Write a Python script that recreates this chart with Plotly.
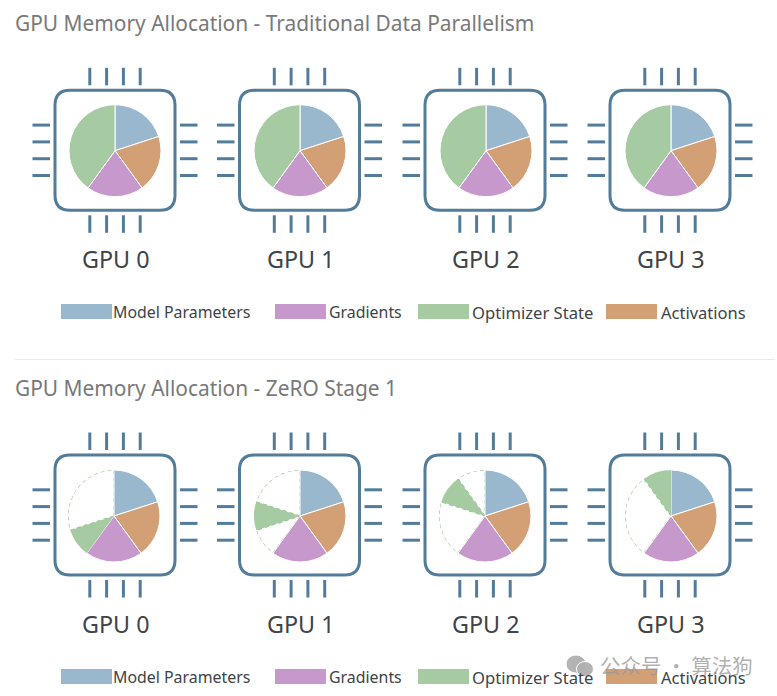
import numpy as np
import plotly.graph_objects as go

W, H = 777, 696
gpus = ["GPU 0", "GPU 1", "GPU 2", "GPU 3"]
legend_names = ["Model Parameters", "Gradients", "Optimizer State", "Activations"]
titles = ["GPU Memory Allocation - Traditional Data Parallelism", "GPU Memory Allocation - ZeRO Stage 1"]

# shares clockwise from 12 o'clock
model_share = [20, 20, 20, 20]
activations_share = [20, 20, 20, 20]
gradients_share = [20, 20, 20, 20]
optimizer_full = [40, 40, 40, 40]
# ZeRO stage 1: (empty before, optimizer shard, empty after)
empty_before = [0, 10, 20, 30]
optimizer_shard = [10, 10, 10, 10]
empty_after = [30, 20, 10, 0]

C_MODEL, C_ACT, C_GRAD, C_OPT = "#9ab8cd", "#d3a076", "#c798cc", "#a6cba3"
C_CHIP, C_TEXT, C_TITLE = "#527c9a", "#404347", "#77797b"
CLEAR = "rgba(255,255,255,0)"
legend_colors = [C_MODEL, C_GRAD, C_OPT, C_ACT]
legend_sizes = [15.9, 15.9, 16.6, 16.5]
FONT = "Noto Sans, Open Sans, sans-serif"

chip_x = [115, 299.5, 485, 670]
pie_x = [[115, 300, 486, 671], [114, 300, 485, 671]]
row_chip_y = [150.3, 515]
row_pie_y = [150.7, 516]
R = 46
swatch_x = [61, 275, 418, 606]
text_x = [111, 327, 470, 659]

fig = go.Figure()
shapes, ann = [], []


def dom(cx, cy, r=R):
    return dict(x=[(cx - r) / W, (cx + r) / W], y=[1 - (cy + r) / H, 1 - (cy - r) / H])


def text(x, y, s, size, color, anchor="left", family=FONT):
    ann.append(dict(x=x, y=y, xref="x", yref="y", text=s, showarrow=False, xanchor=anchor, yanchor="middle",
                    font=dict(size=size, color=color, family=family)))


polar_layout = {}
for row in range(2):
    cy = row_chip_y[row]
    for i, g in enumerate(gpus):
        cx = chip_x[i]
        a, b, r = 60, 60, 15
        shapes.append(dict(type="path", xref="x", yref="y", line=dict(color=C_CHIP, width=3),
                           path=f"M{cx-a+r},{cy-b} L{cx+a-r},{cy-b} Q{cx+a},{cy-b} {cx+a},{cy-b+r} "
                                f"L{cx+a},{cy+b-r} Q{cx+a},{cy+b} {cx+a-r},{cy+b} L{cx-a+r},{cy+b} "
                                f"Q{cx-a},{cy+b} {cx-a},{cy+b-r} L{cx-a},{cy-b+r} Q{cx-a},{cy-b} {cx-a+r},{cy-b} Z"))
        for off in (-25.2, -8.4, 8.4, 25.2):
            for x0, y0, x1, y1 in [(cx + off, cy - 82.5, cx + off, cy - 65),
                                   (cx + off, cy + 65, cx + off, cy + 82.5),
                                   (cx - 82.5, cy + off, cx - 65, cy + off),
                                   (cx + 65, cy + off, cx + 82.5, cy + off)]:
                shapes.append(dict(type="line", x0=x0, y0=y0, x1=x1, y1=y1, xref="x", yref="y",
                                   line=dict(color=C_CHIP, width=3)))
        text(cx + 0.5, cy + 109, g, 23.3, C_TEXT, "center")

        px, py = pie_x[row][i], row_pie_y[row]
        if row == 0:
            vals = [model_share[i], activations_share[i], gradients_share[i], optimizer_full[i]]
            cols = [C_MODEL, C_ACT, C_GRAD, C_OPT]
            names = [legend_names[0], legend_names[3], legend_names[1], legend_names[2]]
            widths = [1, 1, 1, 1]
        else:
            vals = [model_share[i], activations_share[i], gradients_share[i],
                    empty_before[i], optimizer_shard[i], empty_after[i]]
            cols = [C_MODEL, C_ACT, C_GRAD, CLEAR, C_OPT, CLEAR]
            names = [legend_names[0], legend_names[3], legend_names[1], "Free (before)", legend_names[2], "Free (after)"]
            widths = [1, 1, 1, 0, 0, 0]
        fig.add_trace(go.Pie(values=vals, labels=names, sort=False, direction="clockwise", rotation=0,
                             marker=dict(colors=cols, line=dict(color="#ffffff", width=widths)),
                             textinfo="none", showlegend=False, hoverinfo="label+percent",
                             domain=dom(px, py)))
        if row == 1:
            pid = f"polar{i + 1}"
            d = dom(px, py)
            polar_layout[pid] = dict(domain=d, bgcolor="rgba(0,0,0,0)",
                                     radialaxis=dict(visible=False, range=[0, 1]),
                                     angularaxis=dict(visible=False, direction="clockwise", rotation=90))
            start = model_share[i] + activations_share[i] + gradients_share[i]
            for seg_start, seg in [(start, empty_before[i]),
                                   (start + empty_before[i] + optimizer_shard[i], empty_after[i])]:
                if seg <= 0:
                    continue
                th = np.linspace(seg_start, seg_start + seg, 40) * 3.6
                fig.add_trace(go.Scatterpolar(r=[0] + [1] * 40 + [0], theta=[th[0]] + list(th) + [th[-1]],
                                              mode="lines", line=dict(color="#8fbf8b", width=1.2, dash="4px,3px"),
                                              subplot=pid, showlegend=False, hoverinfo="skip"))

    for j, name in enumerate(legend_names):
        y0 = 304 + row * 365
        shapes.append(dict(type="rect", x0=swatch_x[j], x1=swatch_x[j] + 51, y0=y0, y1=y0 + 15, xref="x", yref="y",
                           fillcolor=legend_colors[j], line=dict(width=0)))
        text(text_x[j], y0 + 8, name, legend_sizes[j], C_TEXT)
    text(13, 23 + row * 365, titles[row], 20.9, C_TITLE)

shapes.append(dict(type="line", x0=15, x1=775, y0=359.5, y1=359.5, xref="x", yref="y",
                   line=dict(color="#e6e6e6", width=1)))

# watermark
for x, y, rx, ry, col in [(576, 664, 10, 9, "rgba(175,175,175,0.95)"), (585, 669, 8.5, 7.5, "rgba(175,175,175,0.95)")]:
    shapes.append(dict(type="circle", x0=x - rx, x1=x + rx, y0=y - ry, y1=y + ry, xref="x", yref="y",
                       fillcolor=col, line=dict(color="#ffffff", width=1)))
ann.append(dict(x=598, y=665, xref="x", yref="y", text="公众号 · 算法狗", showarrow=False, xanchor="left", yanchor="middle",
                font=dict(size=20.5, color="rgba(150,150,150,0.75)", family="Noto Sans CJK SC")))

fig.add_trace(go.Scatter(x=[0, W], y=[0, H], mode="markers", marker=dict(opacity=0), showlegend=False, hoverinfo="skip"))
fig.update_layout(width=W, height=H, margin=dict(l=0, r=0, t=0, b=0), paper_bgcolor="#ffffff", plot_bgcolor="#ffffff",
                  showlegend=False, shapes=shapes, annotations=ann,
                  xaxis=dict(visible=False, range=[0, W], domain=[0, 1], fixedrange=True),
                  yaxis=dict(visible=False, range=[H, 0], domain=[0, 1], fixedrange=True),
                  **polar_layout)
fig.write_html("out.html", config=dict(displayModeBar=False),
               post_script="document.body.style.margin='0';")
